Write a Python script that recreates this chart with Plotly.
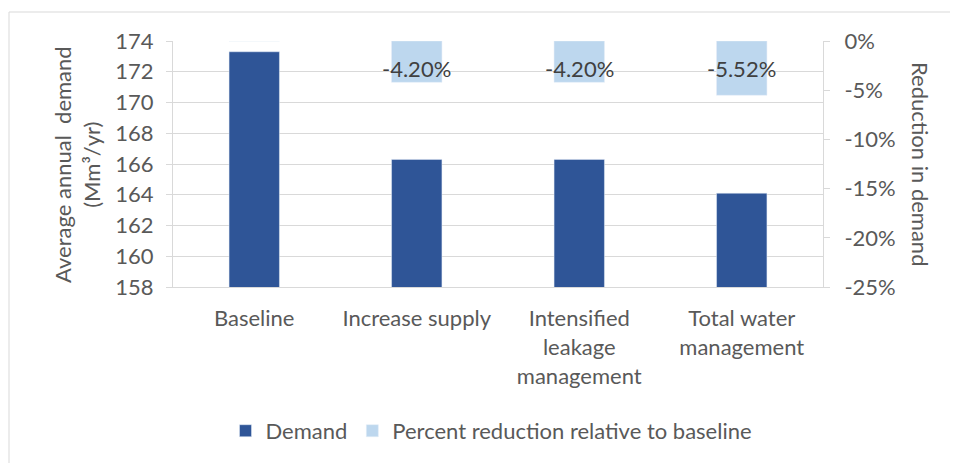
import plotly.graph_objects as go

categories = ["Baseline", "Increase supply", "Intensified leakage management", "Total water management"]
tick_labels = ["Baseline", "Increase supply", "Intensified<br>leakage<br>management", "Total water<br>management"]
demand = [173.3, 166.3, 166.3, 164.1]
reduction_pct = [0.0, -4.20, -4.20, -5.52]
left_ticks = [158, 160, 162, 164, 166, 168, 170, 172, 174]
right_ticks = [0, -5, -10, -15, -20, -25]
right_tick_text = [f"{v}%" for v in right_ticks]

FONT = "Lato"
FS = 22
TICK_COL = "#595959"
GRID = "#d9d9d9"

# page has an 8px body margin; figure is sized to fit the 958x463 window
ML, MT = 165, 33
PW, PH = 650, 246

fig = go.Figure()
fig.add_trace(go.Bar(x=categories, y=demand, name="Demand", marker_color="#2F5597",
                     width=0.31, yaxis="y"))
fig.add_trace(go.Bar(x=categories, y=reduction_pct, name="Percent reduction relative to baseline",
                     marker_color="#BDD7EE", width=0.31, yaxis="y2"))

annotations = []
for c, v in zip(categories, reduction_pct):
    if v != 0:
        annotations.append(dict(x=c, y=-2.75, xref="x", yref="y2", text=f"{v:.2f}%",
                                showarrow=False, font=dict(family=FONT, size=FS, color="#404040"),
                                yanchor="middle"))
annotations.append(dict(xref="paper", yref="paper", x=(69 - ML) / PW, y=0.5,
                        text="Average annual  demand<br>(Mm³/yr)", textangle=-90, showarrow=False,
                        font=dict(family=FONT, size=FS, color=TICK_COL), xanchor="center", yanchor="middle"))
annotations.append(dict(xref="paper", yref="paper", x=(913 - ML) / PW, y=0.5,
                        text="Reduction in demand", textangle=90, showarrow=False,
                        font=dict(family=FONT, size=FS, color=TICK_COL), xanchor="center", yanchor="middle"))

fig.update_layout(
    width=950, height=455,
    margin=dict(l=ML, r=950 - ML - PW, t=MT, b=455 - MT - PH, autoexpand=False),
    paper_bgcolor="white", plot_bgcolor="white",
    barmode="overlay",
    font=dict(family=FONT, size=FS, color=TICK_COL),
    showlegend=True,
    legend=dict(orientation="h", x=0.49, xanchor="center", y=-0.585, yanchor="middle",
                font=dict(family=FONT, size=FS, color=TICK_COL), traceorder="normal",
                itemwidth=30),
    xaxis=dict(tickmode="array", tickvals=categories, ticktext=tick_labels,
               showline=True, linecolor=GRID, linewidth=1, ticks="", showgrid=False,
               range=[-0.5, 3.5], tickfont=dict(family=FONT, size=FS, color=TICK_COL),
               ticklabelstandoff=12, automargin=False),
    yaxis=dict(range=[158, 174], tickvals=left_ticks, showgrid=True, gridcolor=GRID, gridwidth=1,
               showline=True, linecolor=GRID, ticks="outside", ticklen=6, tickcolor=GRID,
               zeroline=False, tickfont=dict(family=FONT, size=FS, color=TICK_COL),
               ticklabelstandoff=8, automargin=False),
    yaxis2=dict(range=[-25, 0], tickvals=right_ticks, ticktext=right_tick_text, overlaying="y", side="right",
                showgrid=False, showline=True, linecolor=GRID, ticks="outside", ticklen=6,
                tickcolor=GRID, zeroline=False, tickfont=dict(family=FONT, size=FS, color=TICK_COL),
                ticklabelstandoff=10, automargin=False),
    annotations=annotations,
    shapes=[dict(type="rect", xref="paper", yref="paper", x0=(1 - ML) / PW, x1=1.5,
                 y0=-1.0, y1=(PH + MT - 4) / PH, line=dict(color=GRID, width=1), layer="below")],
)

fig.write_html("out.html")
